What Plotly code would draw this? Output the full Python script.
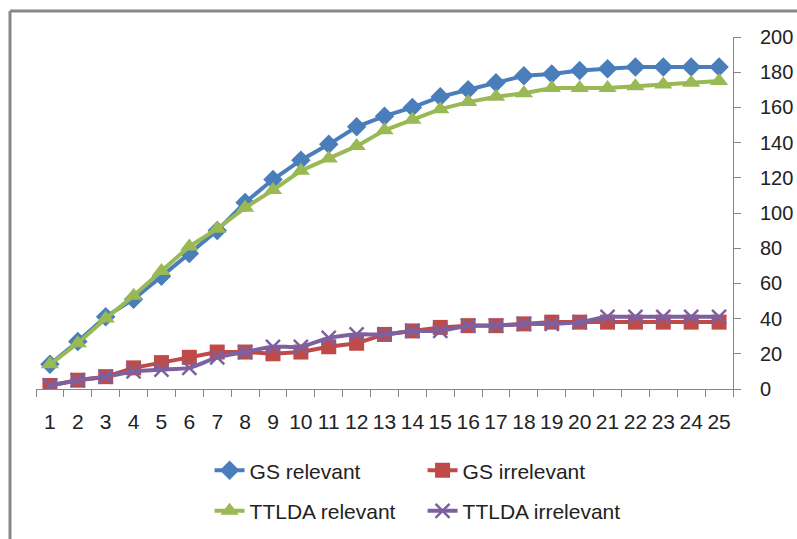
import plotly.graph_objects as go

steps = list(range(1, 26))
gs_relevant = [14, 27, 41, 51, 64, 77, 90, 106, 119, 130, 139, 149, 155, 160, 166,
               170, 174, 178, 179, 181, 182, 183, 183, 183, 183]
gs_irrelevant = [2, 5, 7, 12, 15, 18, 21, 21, 20, 21, 24, 26, 31, 33, 35,
                 36, 36, 37, 38, 38, 38, 38, 38, 38, 38]
ttlda_relevant = [14, 26, 40, 53, 67, 81, 91, 103, 113, 124, 131, 138, 147, 153, 159,
                  163, 166, 168, 171, 171, 171, 172, 173, 174, 175]
ttlda_irrelevant = [2, 5, 7, 10, 11, 12, 18, 21, 24, 24, 29, 31, 31, 33, 33,
                    36, 36, 37, 37, 38, 41, 41, 41, 41, 41]
y_ticks = list(range(0, 201, 20))

BLUE = "#4A7EBB"
RED = "#BE4B48"
GREEN = "#98B954"
PURPLE = "#7D60A0"
FONT = "Liberation Sans"
FS = 21

fig = go.Figure()
fig.add_trace(go.Scatter(
    x=steps, y=gs_relevant, name="GS relevant", mode="lines+markers",
    line=dict(color=BLUE, width=4),
    marker=dict(symbol="diamond", size=15, color=BLUE), legend="legend"))
fig.add_trace(go.Scatter(
    x=steps, y=gs_irrelevant, name="GS irrelevant", mode="lines+markers",
    line=dict(color=RED, width=4),
    marker=dict(symbol="square", size=15, color=RED), legend="legend"))
fig.add_trace(go.Scatter(
    x=steps, y=ttlda_relevant, name="TTLDA relevant", mode="lines+markers",
    line=dict(color=GREEN, width=4),
    marker=dict(symbol="triangle-up", size=16, color=GREEN), legend="legend2"))
fig.add_trace(go.Scatter(
    x=steps, y=ttlda_irrelevant, name="TTLDA irrelevant", mode="lines+markers",
    line=dict(color=PURPLE, width=4, shape="spline", smoothing=0.6),
    marker=dict(symbol="x-thin", size=14, color=PURPLE,
                line=dict(color=PURPLE, width=2.5)), legend="legend2"))

legend_common = dict(orientation="h", xanchor="left", yanchor="middle",
                     font=dict(family=FONT, size=FS, color="#222"),
                     entrywidth=168, entrywidthmode="pixels",
                     bgcolor="rgba(0,0,0,0)", traceorder="normal")

fig.update_layout(
    width=797, height=539,
    margin=dict(l=36, r=64, t=37, b=150, autoexpand=False),
    paper_bgcolor="white", plot_bgcolor="white",
    font=dict(family=FONT, size=FS, color="#222"),
    showlegend=True,
    legend=dict(x=0.249, y=-0.232, **legend_common),
    legend2=dict(x=0.249, y=-0.347, **legend_common),
    xaxis=dict(
        range=[0.5, 25.5], tickmode="array", tickvals=steps,
        ticktext=[str(s) for s in steps], ticks="", showgrid=False,
        zeroline=False, showline=True, linecolor="#868686", linewidth=1,
        tickfont=dict(family=FONT, size=FS, color="#222"),
        ticklabelstandoff=14, automargin=False,
        minor=dict(tick0=0.5, dtick=1, ticks="outside", ticklen=7,
                   tickcolor="#868686", tickwidth=1, showgrid=False),
        fixedrange=True),
    yaxis=dict(
        range=[0, 200], tickvals=y_ticks, side="right", ticks="outside",
        ticklen=7, tickcolor="#868686", showgrid=False, zeroline=False,
        showline=True, linecolor="#868686", linewidth=1,
        tickfont=dict(family=FONT, size=20, color="#222"),
        ticklabelstandoff=15, automargin=False, fixedrange=True),
    shapes=[
        dict(type="line", xref="paper", yref="paper", x0=-0.0373, x1=1.2,
             y0=1.074, y1=1.074, line=dict(color="#888888", width=3)),
        dict(type="line", xref="paper", yref="paper", x0=-0.0373, x1=-0.0373,
             y0=1.074, y1=-0.5, line=dict(color="#888888", width=3)),
    ],
)

fig.write_html("out.html")
